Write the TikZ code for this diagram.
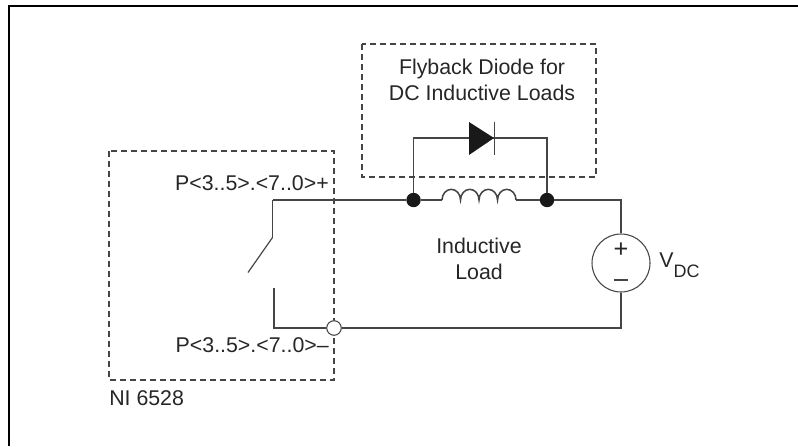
\documentclass[tikz,border=0pt]{standalone}
\usepackage{fontspec}
\setmainfont{Liberation Sans}
\definecolor{ink}{gray}{0.27}
\definecolor{txt}{gray}{0.15}
\tikzset{
 x=0.75pt,y=-0.75pt,
 wire/.style={draw=ink,line width=1.15pt},
 dashbox/.style={draw=ink,line width=0.8pt,dash pattern=on 4.5pt off 3pt},
 dotnode/.style={circle,fill=black!90,inner sep=0pt,minimum size=10.8pt},
 opennode/.style={circle,draw=ink,fill=white,line width=0.7pt,inner sep=0pt,minimum size=10.8pt},
 lbl/.style={inner sep=0pt,font=\fontsize{16}{19.5}\selectfont,text=txt},
}
\begin{document}
\begin{tikzpicture}
\useasboundingbox (0,0) rectangle (798,446);
\draw[black,line width=1.5pt] (9,446) -- (9,6) -- (798,6);
\draw[dashbox] (109,151) rectangle (334,380);
\draw[dashbox] (362,44) rectangle (596,177);
\node[lbl,align=center] (title) at (482,79.5) {Flyback Diode for\\DC Inductive Loads};
\coordinate (topL) at (272.5,200);
\coordinate (hinge) at (272.5,237.5);
\coordinate (blade) at (248,272.5);
\coordinate (contact) at (274,288);
\coordinate (botL) at (274,328);
\coordinate (topR) at (621,200);
\coordinate (botR) at (621,328);
\node[dotnode] (n1) at (413.5,200) {};
\node[dotnode] (n2) at (547,200) {};
\node[opennode] (n3) at (334,328) {};
\node[circle,draw=ink,line width=0.8pt,minimum size=43.5pt,inner sep=0pt] (src) at (621,263) {};
\coordinate (lin) at (442,200);
\coordinate (lout) at (516,200);
\coordinate (dL) at (413.5,138);
\coordinate (dR) at (547,138);
\draw[wire] (topL) -- (n1) -- (lin);
\draw[wire] (hinge) -- (topL);
\draw[draw=ink,line width=0.9pt] (blade) -- (hinge);
\draw[wire] (lin)
  arc[start angle=180,end angle=0,x radius=6.94pt,y radius=8pt]
  arc[start angle=180,end angle=0,x radius=6.94pt,y radius=8pt]
  arc[start angle=180,end angle=0,x radius=6.94pt,y radius=8pt]
  arc[start angle=180,end angle=0,x radius=6.94pt,y radius=8pt];
\draw[wire] (lout) -- (n2) -- (topR) -- (src);
\draw[wire] (src) -- (botR) -- (n3) -- (botL) -- (contact);
\draw[wire] (n1) -- (dL) -- (dR) -- (n2);
\fill[black!90] (469,122) -- (494,138) -- (469,155) -- cycle;
\draw[ink,line width=1pt] (494.5,122) -- (494.5,155);
\node[opennode] at (n3) {};
\node[lbl,anchor=base east] (p1) at (329,190) {P<3..5>.<7..0>+};
\node[lbl,anchor=base east] (p2) at (329,352) {P<3..5>.<7..0>–};
\node[lbl,anchor=base west] (ni) at (109,405) {NI 6528};
\node[lbl,align=center] (load) at (479,259) {Inductive\\Load};
\node[lbl,font=\fontsize{19}{19}\selectfont] (plus) at (621,250) {+};
\draw[ink,line width=1.1pt] (613.5,280) -- (628,280);
\node[lbl,anchor=base west] (v) at (659,267) {V\raisebox{-7.5pt}{\fontsize{13.5}{14}\selectfont DC}};
\end{tikzpicture}
\end{document}
